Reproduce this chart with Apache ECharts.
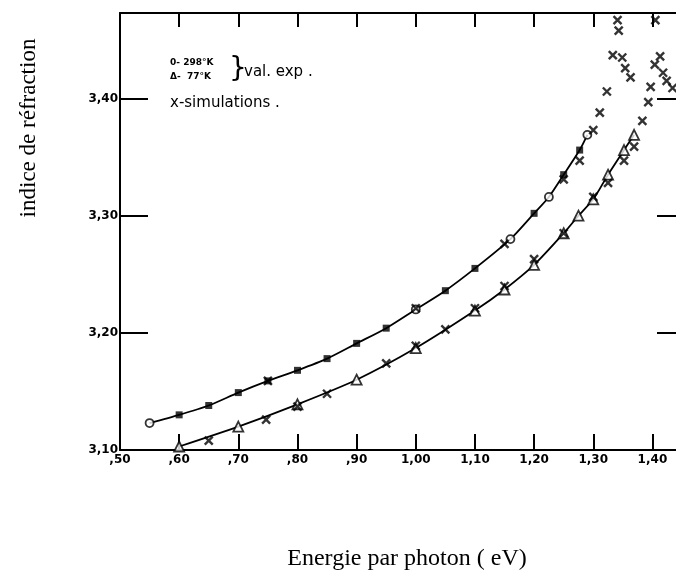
<!DOCTYPE html>
<html>
<head>
<meta charset="utf-8">
<script src="https://cdn.jsdelivr.net/npm/echarts@6/dist/echarts.min.js"></script>
<style>html,body{margin:0;padding:0;background:#fff;}#c{width:676px;height:579px;}</style>
</head>
<body>
<div id="c"></div>
<script>
// Experimental values, 298 K (filled marks)
const exp298Filled = [[0.60,3.130],[0.65,3.138],[0.70,3.149],[0.75,3.159],[0.80,3.168],[0.85,3.178],[0.90,3.191],[0.95,3.204],[1.05,3.236],[1.10,3.255],[1.20,3.302],[1.25,3.335],[1.277,3.356]];
// Experimental values, 298 K (open marks)
const exp298Open = [[0.55,3.123],[1.00,3.220],[1.16,3.280],[1.225,3.316],[1.29,3.369]];
// Experimental values, 77 K (triangles)
const exp77 = [[0.60,3.103],[0.70,3.120],[0.80,3.139],[0.90,3.160],[1.00,3.187],[1.10,3.219],[1.15,3.237],[1.20,3.258],[1.25,3.285],[1.275,3.300],[1.30,3.314],[1.325,3.335],[1.352,3.356],[1.369,3.369]];
// Simulations (x marks)
const simulations = [
  [0.75,3.159],[1.00,3.221],[1.15,3.276],[1.25,3.331],[1.277,3.347],[1.30,3.373],[1.311,3.388],[1.323,3.406],
  [1.333,3.437],[1.349,3.435],[1.354,3.426],[1.363,3.418],[1.341,3.467],[1.343,3.458],
  [0.65,3.108],[0.747,3.126],[0.80,3.137],[0.85,3.148],[0.95,3.174],[1.00,3.189],[1.05,3.203],[1.10,3.221],
  [1.15,3.240],[1.20,3.263],[1.25,3.285],[1.30,3.316],[1.325,3.328],[1.352,3.347],[1.369,3.359],[1.383,3.381],
  [1.393,3.397],[1.397,3.410],[1.404,3.429],[1.413,3.436],[1.418,3.422],[1.424,3.415],[1.434,3.409],[1.405,3.467]
];
// Axis ranges and tick step
const xRange = [0.50, 1.45];
const yRange = [3.10, 3.473];
const tickStep = 0.1;

const curve298 = exp298Filled.concat(exp298Open).sort((a,b)=>a[0]-b[0]);
const curve77 = exp77.slice().sort((a,b)=>a[0]-b[0]);

const fmtX = v => { let s = v.toFixed(2).replace('.', ','); if (v < 1) s = s.slice(1); return s; };
const fmtY = v => v.toFixed(2).replace('.', ',');

const chart = echarts.init(document.getElementById('c'));
const axisLine = {show:true, lineStyle:{color:'#000', width:2}};
const labelFont = {color:'#000', fontFamily:'DejaVu Sans', fontWeight:'bold', fontSize:12};
chart.setOption({
  animation:false,
  backgroundColor:'#fff',
  grid:{left:120, width:562, top:13, bottom:129, containLabel:false, outerBoundsMode:'none'},
  xAxis:[
    {type:'value', position:'bottom', min:xRange[0], max:xRange[1], interval:tickStep,
     axisLine:axisLine, splitLine:{show:false},
     axisTick:{show:true, inside:true, length:16, lineStyle:{color:'#000', width:2}},
     axisLabel:Object.assign({formatter:fmtX, margin:4, showMaxLabel:false}, labelFont)},
    {type:'value', position:'top', min:xRange[0], max:xRange[1], interval:tickStep,
     axisLine:axisLine, splitLine:{show:false},
     axisTick:{show:true, inside:true, length:14, lineStyle:{color:'#000', width:2}},
     axisLabel:{show:false}}
  ],
  yAxis:[
    {type:'value', position:'left', min:yRange[0], max:yRange[1], interval:tickStep,
     axisLine:axisLine, splitLine:{show:false},
     axisTick:{show:true, inside:true, length:28, lineStyle:{color:'#000', width:2}},
     axisLabel:Object.assign({formatter:fmtY, margin:2, showMaxLabel:false}, labelFont)},
    {type:'value', position:'right', min:yRange[0], max:yRange[1], interval:tickStep,
     axisLine:axisLine, splitLine:{show:false},
     axisTick:{show:true, inside:true, length:25, lineStyle:{color:'#000', width:2}},
     axisLabel:{show:false}}
  ],
  series:[
    {type:'line', data:curve298, smooth:0.25, symbol:'none', lineStyle:{color:'#000', width:1.8}, z:2},
    {type:'line', data:curve77, smooth:0.25, symbol:'none', lineStyle:{color:'#000', width:1.8}, z:2},
    {type:'scatter', data:exp298Filled, symbol:'rect', symbolSize:7, itemStyle:{color:'#000'}, z:3},
    {type:'scatter', data:exp298Open, symbol:'circle', symbolSize:8, itemStyle:{color:'#fff', borderColor:'#000', borderWidth:1.8}, z:3},
    {type:'scatter', data:exp77, symbol:'triangle', symbolSize:10, itemStyle:{color:'#fff', borderColor:'#000', borderWidth:1.8}, z:3},
    {type:'scatter', data:simulations, symbol:'path://M0,0L10,10M10,0L0,10', symbolSize:8,
     itemStyle:{color:'rgba(0,0,0,0)', borderColor:'#000', borderWidth:2.4}, z:4}
  ],
  graphic:[
    {type:'text', x:29, y:128, rotation:Math.PI/2,
     style:{text:'indice de réfraction', font:'23px "Liberation Serif"', fill:'#000', align:'center', verticalAlign:'middle'}},
    {type:'text', x:407, y:559,
     style:{text:'Energie par photon ( eV)', font:'24px "Liberation Serif"', fill:'#000', align:'center', verticalAlign:'middle'}},
    {type:'text', x:170, y:63,
     style:{text:'0- 298°K', font:'bold 9px "DejaVu Sans"', fill:'#000', align:'left', verticalAlign:'middle'}},
    {type:'text', x:170, y:77,
     style:{text:'Δ-  77°K', font:'bold 9px "DejaVu Sans"', fill:'#000', align:'left', verticalAlign:'middle'}},
    {type:'text', x:229, y:70,
     style:{text:'}', font:'28px "DejaVu Sans"', fill:'#000', align:'left', verticalAlign:'middle'}},
    {type:'text', x:244, y:72,
     style:{text:'val. exp .', font:'15px "DejaVu Sans"', fill:'#000', align:'left', verticalAlign:'middle'}},
    {type:'text', x:170, y:103,
     style:{text:'x-simulations .', font:'15px "DejaVu Sans"', fill:'#000', align:'left', verticalAlign:'middle'}}
  ]
});
</script>
</body>
</html>
